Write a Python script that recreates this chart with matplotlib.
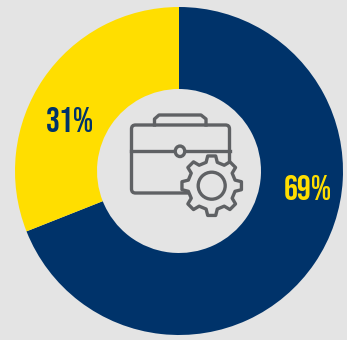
import numpy as np
import matplotlib
matplotlib.use("Agg")
import matplotlib.pyplot as plt
from matplotlib.patches import Circle, Ellipse, FancyBboxPatch, Polygon

labels = ["69%", "31%"]
shares = [69, 31]
colors = ["#00336A", "#FFDE00"]

BG = "#E4E4E4"
ICON = "#5F6164"
W, H = 347, 340

fig = plt.figure(figsize=(W / 100, H / 100), dpi=100, facecolor=BG)
ax = fig.add_axes([0, 0, 1, 1])

# donut, clockwise from twelve o'clock
ax.pie(shares, colors=colors, startangle=90, counterclock=False,
       center=(179, H - 171), radius=164,
       wedgeprops=dict(width=82, linewidth=0))
ax.set_xlim(0, W)
ax.set_ylim(0, H)
ax.set_aspect("equal")
ax.axis("off")

font = dict(family=["Bebas Neue", "Liberation Sans"], fontweight="bold",
            ha="center", va="center")
ax.text(307.5, H - 188, labels[0], color=colors[1], fontsize=25, **font)
ax.text(70.5, H - 120, labels[1], color=colors[0], fontsize=25, **font)

# briefcase
lw = 2.4
ax.add_patch(FancyBboxPatch((131.5, H - 193), 98, 68,
                            boxstyle="round,pad=0,rounding_size=4",
                            edgecolor=ICON, linewidth=lw, facecolor="none", zorder=5))
ax.plot([154.5, 154.5, 159, 201, 206, 206],
        [H - 125, H - 119, H - 115, H - 115, H - 119, H - 125],
        color=ICON, lw=lw, solid_joinstyle="round", zorder=5)
ax.plot([131, 230], [H - 151, H - 151], color=ICON, lw=lw, zorder=5)
ax.add_patch(Ellipse((180, H - 151.3), 9.5, 10.5, edgecolor=ICON, facecolor=BG,
                     linewidth=lw, zorder=6))

# gear outline in polar form, tooth by tooth
gx, gy = 211.7, H - 185.7
n_teeth = 8
r_out, r_root = 30.0, 24.0
step = 2 * np.pi / n_teeth
pts = []
for i in range(n_teeth):
    a = step * i
    for da, r in [(-0.30, r_root), (-0.17, r_out), (0.17, r_out), (0.30, r_root)]:
        pts.append((gx + r * np.cos(a + da * step), gy + r * np.sin(a + da * step)))
ax.add_patch(Polygon(pts, closed=True, edgecolor=ICON, facecolor=BG, linewidth=lw,
                     joinstyle="round", zorder=7))
ax.add_patch(Circle((gx, gy), 13.5, edgecolor=ICON, facecolor=BG, linewidth=lw, zorder=8))

fig.savefig("out.png", dpi=100, facecolor=BG)
